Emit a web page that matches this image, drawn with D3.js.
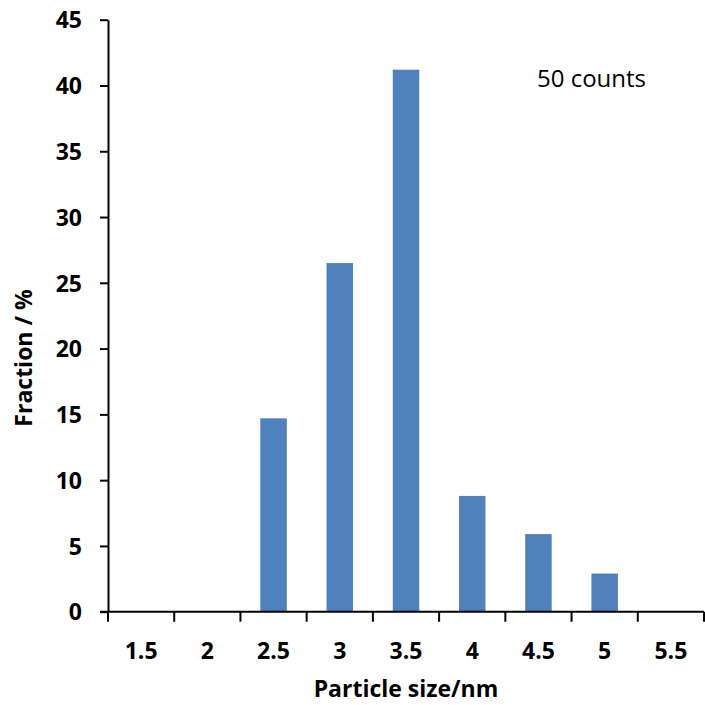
<!DOCTYPE html>
<html>
<head>
<meta charset="utf-8">
<script src="https://cdn.jsdelivr.net/npm/d3@7"></script>
<style>
  html, body { margin: 0; padding: 0; background: #fff; }
  svg { display: block; }
  text { font-family: "Open Sans", "Noto Sans", sans-serif; fill: #000; }
</style>
</head>
<body>
<svg id="chart" width="705" height="705"></svg>
<script>
// Particle size distribution (fraction of particles per size bin)
const sizes = ["1.5", "2", "2.5", "3", "3.5", "4", "4.5", "5", "5.5"];
const fractions = [0, 0, 14.7, 26.5, 41.2, 8.8, 5.9, 2.9, 0];
const yTicks = [0, 5, 10, 15, 20, 25, 30, 35, 40, 45];
const note = "50 counts";
const xTitle = "Particle size/nm";
const yTitle = "Fraction / %";

const data = sizes.map((s, i) => ({ size: s, value: fractions[i] }));

const svg = d3.select("#chart");
const plot = { left: 108, right: 704, top: 19.7, bottom: 611.7 };

const x = d3.scaleBand()
  .domain(sizes)
  .range([plot.left, plot.right])
  .paddingInner(0.6)
  .paddingOuter(0.3);

const y = d3.scaleLinear()
  .domain([0, 45])
  .range([plot.bottom, plot.top]);

// Bars
svg.append("g")
  .selectAll("rect")
  .data(data.filter(d => d.value > 0))
  .join("rect")
  .attr("x", d => x(d.size))
  .attr("y", d => y(d.value))
  .attr("width", x.bandwidth())
  .attr("height", d => y(0) - y(d.value))
  .attr("fill", "#4f81bd");

// Y axis
const yAxis = svg.append("g")
  .attr("transform", `translate(${plot.left},0)`)
  .call(d3.axisLeft(y).tickValues(yTicks).tickSize(8).tickPadding(18).tickSizeOuter(0));
yAxis.select(".domain").attr("stroke", "#000").attr("stroke-width", 2);
yAxis.selectAll(".tick line").attr("stroke", "#000").attr("stroke-width", 2);
yAxis.selectAll(".tick text")
  .attr("font-size", 23)
  .attr("font-weight", 700)
  .attr("dy", "0.36em")
  .style("font-family", "'Open Sans', sans-serif");

// X axis: labels centred on each bin, tick marks on the bin boundaries
const step = x.step();
const boundaries = d3.range(sizes.length + 1).map(i => plot.left + i * step);

const xg = svg.append("g");
xg.append("line")
  .attr("x1", plot.left - 8).attr("x2", plot.right)
  .attr("y1", y(0)).attr("y2", y(0))
  .attr("stroke", "#000").attr("stroke-width", 2);
xg.selectAll("line.tick")
  .data(boundaries)
  .join("line")
  .attr("class", "tick")
  .attr("x1", d => d).attr("x2", d => d)
  .attr("y1", y(0)).attr("y2", y(0) + 10)
  .attr("stroke", "#000").attr("stroke-width", 2);
xg.selectAll("text")
  .data(sizes)
  .join("text")
  .attr("x", d => x(d) + x.bandwidth() / 2)
  .attr("y", 659)
  .attr("text-anchor", "middle")
  .attr("font-size", 23)
  .attr("font-weight", 700)
  .text(d => d);

// Axis titles
svg.append("text")
  .attr("x", (plot.left + plot.right) / 2)
  .attr("y", 697)
  .attr("text-anchor", "middle")
  .attr("font-size", 23)
  .attr("font-weight", 700)
  .text(xTitle);

svg.append("text")
  .attr("transform", "translate(24,358) rotate(-90)")
  .attr("text-anchor", "middle")
  .attr("dy", "0.36em")
  .attr("font-size", 23)
  .attr("font-weight", 700)
  .text(yTitle);

// Annotation
svg.append("text")
  .attr("x", 537)
  .attr("y", 87)
  .attr("font-size", 24)
  .text(note);
</script>
</body>
</html>
